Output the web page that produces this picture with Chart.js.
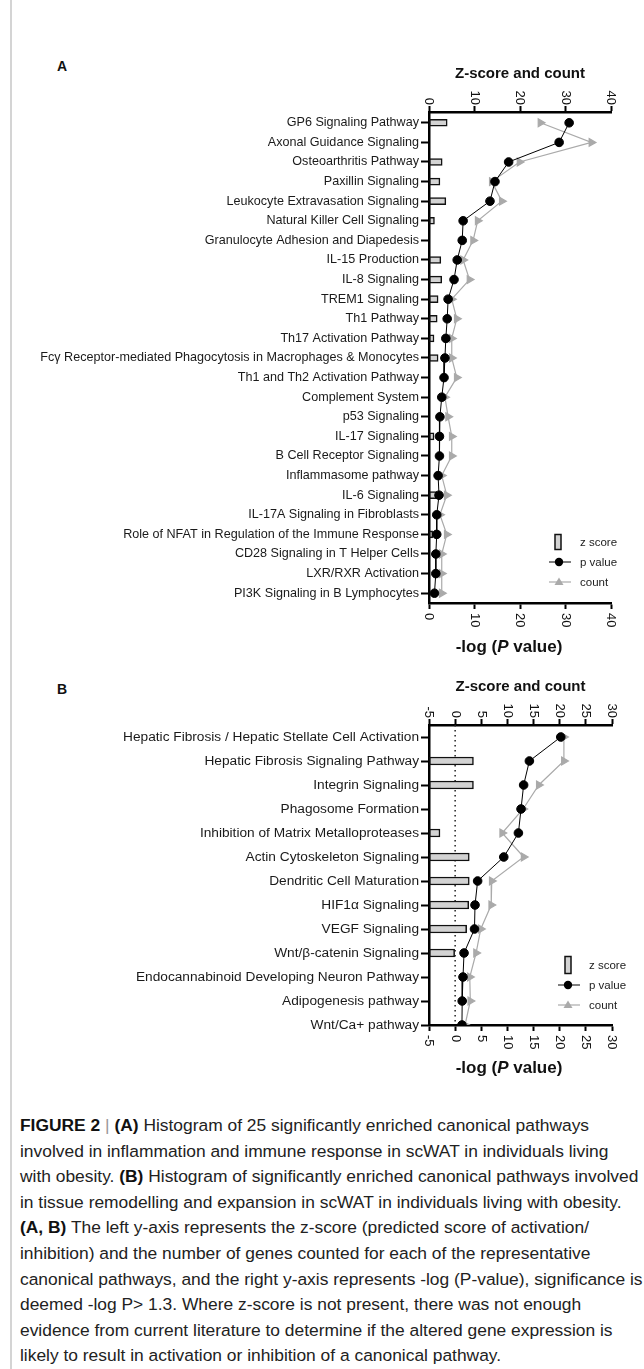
<!DOCTYPE html>
<html>
<head>
<meta charset="utf-8">
<script src="https://cdn.jsdelivr.net/npm/chart.js@4.4.1/dist/chart.umd.min.js"></script>
<style>
  body { margin: 0; background: #fff; }
  #page { position: relative; width: 644px; height: 1369px; overflow: hidden; font-family: "Liberation Sans", Arial, sans-serif; color: #111; }
  .frame { position: absolute; left: 10px; top: 0; width: 2px; height: 1369px; background: #d4d4d4; }
  .panel { position: absolute; font-weight: bold; font-size: 14px; }
  .axtitle { position: absolute; font-weight: bold; font-size: 17px; white-space: nowrap; transform: translateX(-50%); }
  .legend { position: absolute; font-size: 11.5px; color: #222; }
  .legend div { position: relative; height: 20px; line-height: 20px; }
  .legend svg { position: absolute; left: 0; top: 0; }
  .legend span { position: absolute; left: 31px; top: 0; white-space: nowrap; }
  #caption { position: absolute; left: 20px; top: 1113px; font-size: 17.4px; line-height: 25.6px; white-space: nowrap; color: #222; }
  #caption b { color: #111; }
  .sep { color: #999; font-weight: normal; }
</style>
</head>
<body>
<div id="page">
  <div class="frame"></div>
  <div class="panel" style="left:57px; top:58px;">A</div>
  <canvas id="chartA" width="644" height="630" style="position:absolute; left:0; top:40px;"></canvas>
  <div class="axtitle" style="left:509px; top:637px;">-log (<i>P</i> value)</div>
  <div class="legend" style="left:549px; top:532px;">
    <div><svg width="26" height="20"><rect x="6" y="2.5" width="6" height="15" fill="#d3d3d3" stroke="#111" stroke-width="1.5"/></svg><span>z score</span></div>
    <div><svg width="26" height="20"><line x1="0" y1="10" x2="22" y2="10" stroke="#000" stroke-width="1"/><circle cx="10" cy="10" r="4.2" fill="#000"/></svg><span>p value</span></div>
    <div><svg width="26" height="20"><line x1="0" y1="10" x2="22" y2="10" stroke="#aaa" stroke-width="1.2"/><polygon points="10,5.5 14.5,13 5.5,13" fill="#aaa"/></svg><span>count</span></div>
  </div>

  <div class="panel" style="left:57px; top:681px;">B</div>
  <canvas id="chartB" width="644" height="400" style="position:absolute; left:0; top:670px;"></canvas>
  <div class="axtitle" style="left:509px; top:1058px;">-log (<i>P</i> value)</div>
  <div class="legend" style="left:558px; top:955px;">
    <div><svg width="26" height="20"><rect x="7" y="1.5" width="6" height="17" fill="#d3d3d3" stroke="#111" stroke-width="1.5"/></svg><span>z score</span></div>
    <div><svg width="26" height="20"><line x1="0" y1="10" x2="22" y2="10" stroke="#000" stroke-width="1"/><circle cx="10" cy="10" r="4.2" fill="#000"/></svg><span>p value</span></div>
    <div><svg width="26" height="20"><line x1="0" y1="10" x2="22" y2="10" stroke="#aaa" stroke-width="1.2"/><polygon points="10,5.5 14.5,13 5.5,13" fill="#aaa"/></svg><span>count</span></div>
  </div>

  <div id="caption">
    <b>FIGURE 2</b> <span class="sep">|</span> <b>(A)</b> Histogram of 25 significantly enriched canonical pathways<br>
    involved in inflammation and immune response in scWAT in individuals living<br>
    with obesity. <b>(B)</b> Histogram of significantly enriched canonical pathways involved<br>
    in tissue remodelling and expansion in scWAT in individuals living with obesity.<br>
    <b>(A, B)</b> The left y-axis represents the z-score (predicted score of activation/<br>
    inhibition) and the number of genes counted for each of the representative<br>
    canonical pathways, and the right y-axis represents -log (P-value), significance is<br>
    deemed -log P&gt; 1.3. Where z-score is not present, there was not enough<br>
    evidence from current literature to determine if the altered gene expression is<br>
    likely to result in activation or inhibition of a canonical pathway.
  </div>
</div>

<script>
// Panel A - inflammation / immune response pathways
const catsA = [
    'GP6 Signaling Pathway',
    'Axonal Guidance Signaling',
    'Osteoarthritis Pathway',
    'Paxillin Signaling',
    'Leukocyte Extravasation Signaling',
    'Natural Killer Cell Signaling',
    'Granulocyte Adhesion and Diapedesis',
    'IL-15 Production',
    'IL-8 Signaling',
    'TREM1 Signaling',
    'Th1 Pathway',
    'Th17 Activation Pathway',
    'Fcγ Receptor-mediated Phagocytosis in Macrophages & Monocytes',
    'Th1 and Th2 Activation Pathway',
    'Complement System',
    'p53 Signaling',
    'IL-17 Signaling',
    'B Cell Receptor Signaling',
    'Inflammasome pathway',
    'IL-6 Signaling',
    'IL-17A Signaling in Fibroblasts',
    'Role of NFAT in Regulation of the Immune Response',
    'CD28 Signaling in T Helper Cells',
    'LXR/RXR Activation',
    'PI3K Signaling in B Lymphocytes'
];
const zScoreA = [4.0, null, 2.9, 2.4, 3.7, 1.2, null, 2.6, 2.8, 2.0, 1.8, 1.1, 2.0, null, null, null, 1.1, null, null, 1.7, null, 0.8, null, null, null];
const pValueA = [30.8, 28.6, 17.5, 14.5, 13.4, 7.5, 7.3, 6.2, 5.5, 4.2, 4.0, 3.7, 3.5, 3.3, 2.8, 2.4, 2.3, 2.3, 2.0, 2.2, 1.7, 1.7, 1.5, 1.5, 1.2];
const countA = [24.5, 35.7, 19.9, 13.8, 16.0, 10.7, 9.7, 7.5, 8.9, 5.0, 6.1, 5.0, 5.0, 6.1, 3.5, 4.2, 5.0, 5.0, 2.8, 3.9, 2.4, 3.9, 2.8, 2.8, 2.8];
const ticksA = [0, 10, 20, 30, 40];

// Panel B - tissue remodelling / expansion pathways
const catsB = [
    'Hepatic Fibrosis / Hepatic Stellate Cell Activation',
    'Hepatic Fibrosis Signaling Pathway',
    'Integrin Signaling',
    'Phagosome Formation',
    'Inhibition of Matrix Metalloproteases',
    'Actin Cytoskeleton Signaling',
    'Dendritic Cell Maturation',
    'HIF1α Signaling',
    'VEGF Signaling',
    'Wnt/β-catenin Signaling',
    'Endocannabinoid Developing Neuron Pathway',
    'Adipogenesis pathway',
    'Wnt/Ca+ pathway'
];
const zScoreB = [null, 3.5, 3.5, null, -2.9, 2.7, 2.7, 2.6, 2.2, -0.1, null, null, null];
const pValueB = [20.2, 14.2, 13.1, 12.6, 12.1, 9.3, 4.3, 3.8, 3.7, 1.7, 1.5, 1.35, 1.3];
const countB = [20.8, 20.8, 16.0, 13.0, 9.0, 13.1, 7.0, 6.9, 4.9, 4.0, 2.8, 2.9, 1.9];
const ticksB = [-5, 0, 5, 10, 15, 20, 25, 30];

const FONT = '"Liberation Sans", Arial, sans-serif';

// tick labels turned 90deg clockwise, like the rotated prism graph
const rotatedTicks = {
    id: 'rotatedTicks',
    afterDraw(chart) {
        const ctx = chart.ctx;
        ctx.save();
        ctx.font = '13px ' + FONT;
        ctx.fillStyle = '#111';
        ctx.textBaseline = 'middle';
        ['xTop', 'xBot'].forEach(id => {
            const s = chart.scales[id];
            s.ticks.forEach(t => {
                const x = s.getPixelForValue(t.value);
                ctx.save();
                if (id === 'xTop') {
                    ctx.translate(x, s.bottom - 7);
                    ctx.rotate(Math.PI / 2);
                    ctx.textAlign = 'right';
                } else {
                    ctx.translate(x, s.top + 10);
                    ctx.rotate(Math.PI / 2);
                    ctx.textAlign = 'left';
                }
                ctx.fillText(String(t.value), 0, 0);
                ctx.restore();
            });
        });
        ctx.restore();
    }
};

// dotted line at zero on panel B
const zeroLine = {
    id: 'zeroLine',
    beforeDatasetsDraw(chart, args, opts) {
        if (!opts.show) return;
        const s = chart.scales.xTop;
        const x = s.getPixelForValue(0);
        const ctx = chart.ctx;
        ctx.save();
        ctx.strokeStyle = '#222';
        ctx.lineWidth = 1.5;
        ctx.setLineDash([1.5, 3.5]);
        ctx.beginPath();
        ctx.moveTo(x, chart.chartArea.top);
        ctx.lineTo(x, chart.chartArea.bottom);
        ctx.stroke();
        ctx.restore();
    }
};

function axisX(pos, min, max, ticks, height, title, titlePad) {
    return {
        type: 'linear',
        position: pos,
        min: min,
        max: max,
        afterBuildTicks: ax => { ax.ticks = ticks.map(v => ({ value: v })); },
        ticks: { display: false },
        grid: { drawOnChartArea: false, tickLength: 6, tickWidth: 2, color: '#000' },
        border: { width: 2.5, color: '#000' },
        title: title ? { display: true, text: title, color: '#111', font: { family: FONT, size: 15, weight: 'bold' }, padding: { top: titlePad, bottom: 0 } } : { display: false },
        afterFit: ax => { ax.height = height; }
    };
}

function makeChart(id, cats, z, p, count, ticks, opt) {
    const zData = [];
    z.forEach((v, i) => { if (v !== null) zData.push({ x: v, y: i }); });
    return new Chart(document.getElementById(id), {
        type: 'bar',
        data: {
            datasets: [
                {
                    type: 'bar',
                    label: 'z score',
                    data: zData,
                    xAxisID: 'xTop',
                    base: opt.base,
                    backgroundColor: '#d3d3d3',
                    borderColor: '#111',
                    borderWidth: 1.5,
                    borderSkipped: false,
                    barThickness: opt.barThickness,
                    order: 3
                },
                {
                    type: 'line',
                    label: 'count',
                    data: count.map((v, i) => ({ x: v, y: i })),
                    xAxisID: 'xTop',
                    borderColor: '#aaa',
                    borderWidth: 1.2,
                    pointStyle: 'triangle',
                    rotation: 90,
                    pointRadius: 4.5,
                    pointBackgroundColor: '#aaa',
                    pointBorderColor: '#aaa',
                    order: 2
                },
                {
                    type: 'line',
                    label: 'p value',
                    data: p.map((v, i) => ({ x: v, y: i })),
                    xAxisID: 'xBot',
                    borderColor: '#000',
                    borderWidth: 1,
                    pointRadius: 4.3,
                    pointBackgroundColor: '#000',
                    pointBorderColor: '#000',
                    order: 1
                }
            ]
        },
        options: {
            indexAxis: 'y',
            responsive: false,
            animation: false,
            devicePixelRatio: 1,
            layout: { padding: { right: opt.padRight, top: 0, bottom: 0, left: 0 } },
            plugins: { legend: { display: false }, tooltip: { enabled: false }, zeroLine: { show: opt.zero } },
            scales: {
                y: {
                    type: 'linear',
                    position: 'left',
                    reverse: true,
                    offset: false,
                    min: opt.yMin,
                    max: opt.yMax,
                    afterBuildTicks: ax => { ax.ticks = cats.map((c, i) => ({ value: i })); },
                    ticks: {
                        autoSkip: false,
                        callback: v => cats[v],
                        font: { family: FONT, size: opt.labelSize },
                        color: '#1a1a1a',
                        padding: 2
                    },
                    grid: { offset: false, drawOnChartArea: false, tickLength: 8, tickWidth: 2, color: '#000' },
                    border: { width: 2.5, color: '#000' },
                    afterFit: ax => { ax.width = 429; }
                },
                xTop: axisX('top', ticks[0], ticks[ticks.length - 1], ticks, opt.topH, 'Z-score and count', opt.titlePad),
                xBot: axisX('bottom', ticks[0], ticks[ticks.length - 1], ticks, opt.botH, null, 0)
            }
        },
        plugins: [rotatedTicks, zeroLine]
    });
}

makeChart('chartA', catsA, zScoreA, pValueA, countA, ticksA, {
    base: 0, barThickness: 7, padRight: 33, yMin: -0.55, yMax: 24.5,
    topH: 72, botH: 67, titlePad: 25, labelSize: 12.6, zero: false
});

makeChart('chartB', catsB, zScoreB, pValueB, countB, ticksB, {
    base: -5, barThickness: 8, padRight: 32, yMin: -0.5, yMax: 12,
    topH: 55, botH: 45, titlePad: 8, labelSize: 13.7, zero: true
});
</script>
</body>
</html>
